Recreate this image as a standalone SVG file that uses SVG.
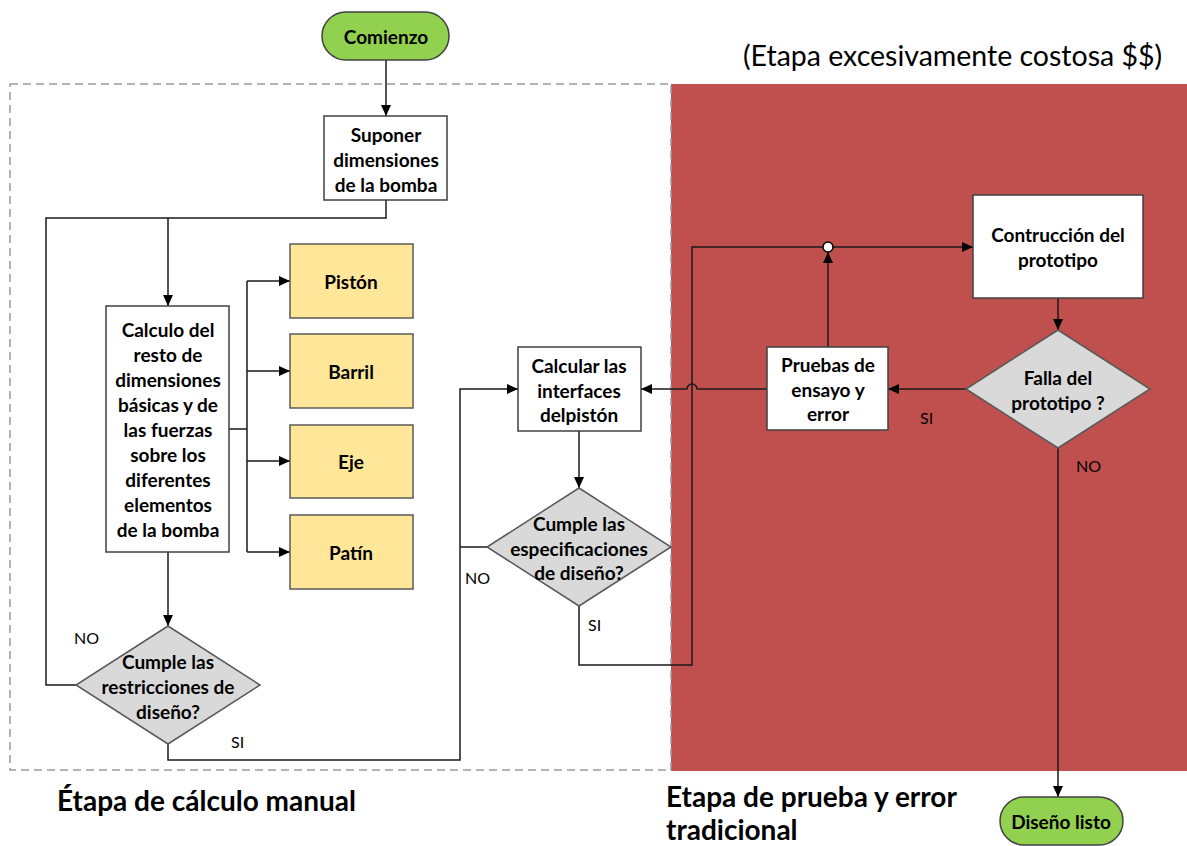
<svg xmlns="http://www.w3.org/2000/svg" width="1187" height="846" viewBox="0 0 1187 846">
  <style>
    .box { fill: #ffffff; stroke: #404040; stroke-width: 1.5; }
    .part { fill: #FFE699; stroke: #595959; stroke-width: 1.5; }
    .dec { fill: #D9D9D9; stroke: #595959; stroke-width: 1.5; }
    .term { fill: #92D050; stroke: #404040; stroke-width: 1.5; }
    .t { font-family: Lato, "Liberation Sans", sans-serif; font-weight: bold; font-size: 19px; fill: #000; text-anchor: middle; dominant-baseline: central; }
    .lbl { font-family: Lato, "Liberation Sans", sans-serif; font-size: 16px; fill: #000; dominant-baseline: central; }
    .title { font-family: Lato, "Liberation Sans", sans-serif; font-weight: bold; font-size: 28px; fill: #000; dominant-baseline: central; }
    .note { font-family: Lato, "Liberation Sans", sans-serif; font-size: 28.5px; fill: #000; dominant-baseline: central; }
    .wire { fill: none; stroke: #1a1a1a; stroke-width: 1.5; }
  </style>
  <defs>
    <marker id="arrow" markerUnits="userSpaceOnUse" markerWidth="12" markerHeight="10" refX="11" refY="5" orient="auto">
      <path d="M0,0 L11,5 L0,10 Z" fill="#000"/>
    </marker>
  </defs>

  <!-- stage backgrounds -->
  <rect x="671" y="84" width="516" height="687" fill="#C0504D"/>
  <rect x="10" y="84" width="661" height="686" fill="none" stroke="#9a9a9a" stroke-width="1.5" stroke-dasharray="8,5"/>

  <!-- stage captions -->
  <text class="note" x="743" y="55">(Etapa excesivamente costosa $$)</text>
  <text class="title" x="57" y="800">Étapa de cálculo manual</text>
  <text class="title" x="666" y="796">Etapa de prueba y error</text>
  <text class="title" x="666" y="829">tradicional</text>

  <!-- connectors -->
  <g id="connectors">
    <path class="wire" d="M386,60 V116" marker-end="url(#arrow)"/>
    <path class="wire" d="M386,200 V218 H46 V685 H76"/>
    <path class="wire" d="M168,218 V306" marker-end="url(#arrow)"/>
    <path class="wire" d="M229,429 H247"/>
    <path class="wire" d="M247,281 V552"/>
    <path class="wire" d="M247,281 H290" marker-end="url(#arrow)"/>
    <path class="wire" d="M247,371 H290" marker-end="url(#arrow)"/>
    <path class="wire" d="M247,461 H290" marker-end="url(#arrow)"/>
    <path class="wire" d="M247,552 H290" marker-end="url(#arrow)"/>
    <path class="wire" d="M168,552 V626" marker-end="url(#arrow)"/>
    <path class="wire" d="M168,744 V760 H460 V389 H518" marker-end="url(#arrow)"/>
    <path class="wire" d="M487,547 H460"/>
    <path class="wire" d="M579,431 V488" marker-end="url(#arrow)"/>
    <path class="wire" d="M579,606 V665 H692 V247 H973" marker-end="url(#arrow)"/>
    <path class="wire" d="M1058,298 V330" marker-end="url(#arrow)"/>
    <path class="wire" d="M967,389 H888" marker-end="url(#arrow)"/>
    <path class="wire" d="M767,389 H697 A5,5 0 0 0 687,389 H641" marker-end="url(#arrow)"/>
    <path class="wire" d="M828,347 V252" marker-end="url(#arrow)"/>
    <circle cx="828" cy="247" r="5" fill="#ffffff" stroke="#000" stroke-width="1.5"/>
    <path class="wire" d="M1058,448 V797" marker-end="url(#arrow)"/>
  </g>

  <!-- branch labels -->
  <text class="lbl" x="74" y="637">NO</text>
  <text class="lbl" x="231" y="741">SI</text>
  <text class="lbl" x="465" y="577">NO</text>
  <text class="lbl" x="588" y="624">SI</text>
  <text class="lbl" x="920" y="417">SI</text>
  <text class="lbl" x="1076" y="465">NO</text>

  <!-- nodes -->
  <g id="start">
    <rect class="term" x="322" y="12" width="127" height="48" rx="24"/>
    <text class="t" x="386" y="36">Comienzo</text>
  </g>

  <g id="suponer">
    <rect class="box" x="324" y="116" width="123" height="84"/>
    <text class="t" x="386" y="134">Suponer</text>
    <text class="t" x="386" y="159">dimensiones</text>
    <text class="t" x="386" y="184">de la bomba</text>
  </g>

  <g id="calculo">
    <rect class="box" x="106" y="306" width="123" height="246"/>
    <text class="t" x="168" y="329">Calculo del</text>
    <text class="t" x="168" y="354">resto de</text>
    <text class="t" x="168" y="379">dimensiones</text>
    <text class="t" x="168" y="404">básicas y de</text>
    <text class="t" x="168" y="429">las fuerzas</text>
    <text class="t" x="168" y="454">sobre los</text>
    <text class="t" x="168" y="479">diferentes</text>
    <text class="t" x="168" y="504">elementos</text>
    <text class="t" x="168" y="529">de la bomba</text>
  </g>

  <g id="piston">
    <rect class="part" x="290" y="244" width="123" height="74"/>
    <text class="t" x="351" y="281">Pistón</text>
  </g>
  <g id="barril">
    <rect class="part" x="290" y="334" width="123" height="74"/>
    <text class="t" x="351" y="371">Barril</text>
  </g>
  <g id="eje">
    <rect class="part" x="290" y="425" width="123" height="73"/>
    <text class="t" x="351" y="461">Eje</text>
  </g>
  <g id="patin">
    <rect class="part" x="290" y="515" width="123" height="74"/>
    <text class="t" x="351" y="552">Patín</text>
  </g>

  <g id="restricciones">
    <polygon class="dec" points="168,626 260,685 168,744 76,685"/>
    <text class="t" x="168" y="661">Cumple las</text>
    <text class="t" x="168" y="686">restricciones de</text>
    <text class="t" x="168" y="711">diseño?</text>
  </g>

  <g id="interfaces">
    <rect class="box" x="518" y="347" width="123" height="84"/>
    <text class="t" x="579" y="365">Calcular las</text>
    <text class="t" x="579" y="390">interfaces</text>
    <text class="t" x="579" y="414">delpistón</text>
  </g>

  <g id="especificaciones">
    <polygon class="dec" points="579,488 671,547 579,606 487,547"/>
    <text class="t" x="579" y="523">Cumple las</text>
    <text class="t" x="579" y="548">especificaciones</text>
    <text class="t" x="579" y="572">de diseño?</text>
  </g>

  <g id="construccion">
    <rect class="box" x="973" y="195" width="170" height="103"/>
    <text class="t" x="1058" y="234">Contrucción del</text>
    <text class="t" x="1058" y="259">prototipo</text>
  </g>

  <g id="falla">
    <polygon class="dec" points="1058,330 1150,389 1058,448 966,389"/>
    <text class="t" x="1058" y="377">Falla del</text>
    <text class="t" x="1058" y="402">prototipo ?</text>
  </g>

  <g id="pruebas">
    <rect class="box" x="767" y="347" width="121" height="83"/>
    <text class="t" x="828" y="364">Pruebas de</text>
    <text class="t" x="828" y="389">ensayo y</text>
    <text class="t" x="828" y="413">error</text>
  </g>

  <g id="end">
    <rect class="term" x="1000" y="797" width="123" height="48" rx="24"/>
    <text class="t" x="1061" y="821">Diseño listo</text>
  </g>
</svg>
